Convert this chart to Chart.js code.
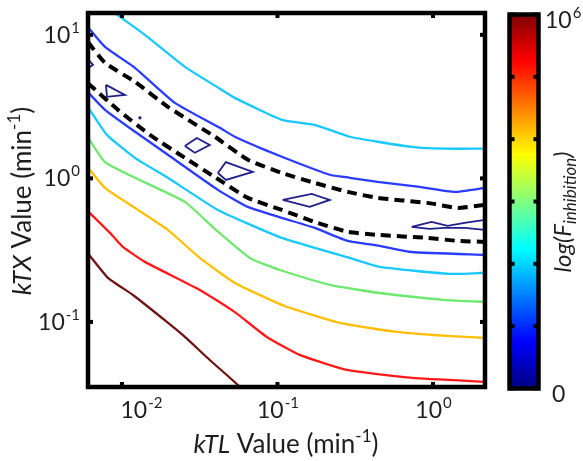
<!DOCTYPE html>
<html>
<head>
<meta charset="utf-8">
<script src="https://cdn.jsdelivr.net/npm/chart.js@4.4.1/dist/chart.umd.min.js"></script>
<style>
  html, body { margin: 0; padding: 0; background: #fff; }
</style>
</head>
<body>
<canvas id="c" width="583" height="461"></canvas>
<script>
// axis ranges and ticks (kTL on x, kTX on y, both log)
const xRange = [0.00605, 2.16];
const yRange = [0.0352, 14.2];
const xTicks = [0.01, 0.1, 1];
const xTickExp = ["-2", "-1", "0"];
const yTicks = [0.1, 1, 10];
const yTickExp = ["-1", "0", "1"];
const cbarTicks = [0, 1, 2, 3, 4, 5, 6];

// contour lines, [kTL, kTX]
const cyanUpper = [[0.00915,14.0],[0.01405,10.0],[0.0254,5.98],[0.0408,4.34],[0.0532,3.64],[0.1066,2.56],[0.1736,2.36],[0.2914,1.95],[0.4406,1.80],[0.729,1.66],[1.187,1.61],[2.16,1.61]];
const blueUpper = [[0.00605,11.3],[0.00778,8.25],[0.01212,5.89],[0.0219,3.36],[0.0426,2.25],[0.0532,1.95],[0.0829,1.58],[0.135,1.28],[0.2168,1.06],[0.2914,1.01],[0.4406,0.945],[0.8204,0.872],[1.376,0.805],[2.16,0.859]];
const dashUpper = [[0.00605,8.9],[0.00778,6.38],[0.01212,4.71],[0.01974,3.15],[0.0396,1.95],[0.0645,1.35],[0.1066,1.09],[0.1736,0.930],[0.2829,0.805],[0.4406,0.731],[0.9232,0.675],[1.439,0.623],[2.16,0.654]];
const dashLower = [[0.00605,4.6],[0.00943,3.00],[0.01513,2.01],[0.0254,1.39],[0.0402,1.01],[0.0645,0.731],[0.1066,0.603],[0.1736,0.497],[0.2829,0.424],[0.4406,0.404],[0.9232,0.385],[1.439,0.367],[2.16,0.361]];
const blueLower = [[0.00605,3.98],[0.00778,3.00],[0.01093,2.29],[0.01974,1.46],[0.0414,0.832],[0.0645,0.633],[0.1066,0.531],[0.1736,0.452],[0.2829,0.367],[0.4539,0.339],[0.729,0.307],[2.16,0.293]];
const cyanLower = [[0.00605,3.14],[0.00801,2.01],[0.01212,1.39],[0.01974,1.01],[0.0414,0.603],[0.1066,0.385],[0.2914,0.279],[0.4539,0.242],[1.278,0.216],[2.16,0.220]];
const greenLine = [[0.00605,1.93],[0.00778,1.30],[0.01212,1.01],[0.0254,0.686],[0.0402,0.438],[0.0664,0.279],[0.1035,0.230],[0.2168,0.181],[0.4539,0.159],[1.223,0.142],[2.16,0.138]];
const orangeLine = [[0.00605,1.19],[0.00778,0.859],[0.01212,0.623],[0.01974,0.438],[0.0317,0.279],[0.0532,0.187],[0.1114,0.129],[0.2513,0.0984],[0.5837,0.0852],[1.223,0.0799],[2.16,0.0774]];
const redLine = [[0.00605,0.59],[0.00838,0.417],[0.01015,0.333],[0.01405,0.262],[0.0317,0.167],[0.0532,0.117],[0.0854,0.0786],[0.139,0.0589],[0.2787,0.0463],[0.7396,0.0407],[2.16,0.0382]];
const darkRedLine = [[0.00605,0.30],[0.00813,0.203],[0.01177,0.154],[0.01945,0.100],[0.0254,0.0786],[0.0367,0.0543],[0.0556,0.0364],[0.0581,0.0336]];

// small closed contours around the minimum
const navyA = [[0.00605,6.75],[0.00652,6.18],[0.00605,5.85]];
const navyB = [[0.00789,4.48],[0.01045,3.82],[0.00801,3.70],[0.00789,4.48]];
const navyC = [[0.0254,1.68],[0.0303,1.91],[0.0367,1.71],[0.0294,1.51],[0.0254,1.68]];
const navyD = [[0.0414,1.09],[0.0466,1.30],[0.0694,1.11],[0.0466,0.976],[0.0414,1.09]];
const navyE = [[0.1081,0.708],[0.1661,0.780],[0.2168,0.708],[0.1612,0.633],[0.1081,0.708]];
const navyF = [[0.729,0.459],[0.9795,0.497],[1.241,0.467],[1.596,0.490],[2.16,0.514],[2.16,0.438],[1.596,0.452],[1.187,0.452],[0.951,0.445],[0.729,0.459]];
const navyDot = [[0.01305,2.64]];

const FONT = "Lato, 'Open Sans', sans-serif";
const TXT = "#1e1e1e";

function pts(arr) { return arr.map(p => ({ x: p[0], y: p[1] })); }

function contour(arr, color, width, dash, tension) {
  return {
    data: pts(arr),
    borderColor: color,
    backgroundColor: color,
    borderWidth: width,
    borderDash: dash || [],
    pointRadius: 0,
    fill: false,
    tension: tension === undefined ? 0.15 : tension,
    clip: 0
  };
}

// 10 with a raised exponent
function drawPow(ctx, exp, x, y, align) {
  ctx.font = "23px " + FONT;
  const wb = ctx.measureText("10").width;
  ctx.font = "15px " + FONT;
  const we = ctx.measureText(exp).width;
  let left = x;
  if (align === "center") left = x - (wb + we) / 2;
  if (align === "right") left = x - wb - we - 1;
  ctx.textAlign = "left";
  ctx.textBaseline = "alphabetic";
  ctx.font = "23px " + FONT;
  ctx.fillText("10", left, y);
  ctx.font = "15px " + FONT;
  ctx.fillText(exp, left + wb + 1, y - 10);
}

// text made of runs with mixed style / sub / sup
function drawRuns(ctx, runs, cx, base) {
  let total = 0;
  runs.forEach(r => {
    ctx.font = (r.i ? "italic " : "") + r.s + "px " + FONT;
    r.w = ctx.measureText(r.t).width;
    total += r.w;
  });
  let x = cx - total / 2;
  ctx.textAlign = "left";
  ctx.textBaseline = "alphabetic";
  runs.forEach(r => {
    ctx.font = (r.i ? "italic " : "") + r.s + "px " + FONT;
    ctx.fillText(r.t, x, base + (r.dy || 0));
    x += r.w;
  });
}

const decor = {
  id: "decor",
  beforeDraw(chart) {
    const ctx = chart.ctx;
    ctx.save();
    ctx.fillStyle = "#fff";
    ctx.fillRect(0, 0, chart.width, chart.height);
    ctx.restore();
  },
  afterDatasetsDraw(chart) {
    const ctx = chart.ctx;
    const a = chart.chartArea;
    const xs = chart.scales.x, ys = chart.scales.y;
    ctx.save();

    // frame
    ctx.strokeStyle = "#000";
    ctx.lineWidth = 4.5;
    ctx.strokeRect(a.left, a.top, a.right - a.left, a.bottom - a.top);

    // tick marks
    ctx.fillStyle = "#000";
    xTicks.forEach(v => {
      const px = xs.getPixelForValue(v);
      ctx.fillRect(px - 2, a.bottom - 5, 4, 4);
      ctx.fillRect(px - 2, a.top + 1, 4, 4);
    });
    yTicks.forEach(v => {
      const py = ys.getPixelForValue(v);
      ctx.fillRect(a.left + 1, py - 2, 4, 4);
      ctx.fillRect(a.right - 5, py - 2, 4, 4);
    });

    // tick labels
    ctx.fillStyle = TXT;
    xTicks.forEach((v, i) => {
      const px = xs.getPixelForValue(v) + (i === 0 ? 19 : 0);
      drawPow(ctx, xTickExp[i], px, 418, "center");
    });
    yTicks.forEach((v, i) => {
      const py = ys.getPixelForValue(v);
      drawPow(ctx, yTickExp[i], 80, py + 8, "right");
    });

    // axis titles
    drawRuns(ctx, [
      { t: "kTL", i: true, s: 26 },
      { t: " Value (min", s: 26 },
      { t: "-1", s: 17, dy: -11 },
      { t: ")", s: 26 }
    ], 286, 453);

    ctx.save();
    ctx.translate(22, 201);
    ctx.rotate(-Math.PI / 2);
    drawRuns(ctx, [
      { t: "kTX", i: true, s: 26 },
      { t: " Value (min", s: 26 },
      { t: "-1", s: 17, dy: -11 },
      { t: ")", s: 26 }
    ], 0, 9);
    ctx.restore();

    // colour bar
    const cb = { l: 509.5, r: 538.5, t: 14.5, b: 388.5 };
    const g = ctx.createLinearGradient(0, cb.b, 0, cb.t);
    g.addColorStop(0, "#00007f");
    g.addColorStop(0.125, "#0000ff");
    g.addColorStop(0.375, "#00ffff");
    g.addColorStop(0.625, "#ffff00");
    g.addColorStop(0.875, "#ff0000");
    g.addColorStop(1, "#7f0000");
    ctx.fillStyle = g;
    ctx.fillRect(cb.l, cb.t, cb.r - cb.l, cb.b - cb.t);
    ctx.strokeStyle = "#000";
    ctx.lineWidth = 4.5;
    ctx.strokeRect(cb.l, cb.t, cb.r - cb.l, cb.b - cb.t);
    ctx.fillStyle = "#000";
    cbarTicks.forEach(k => {
      const py = cb.b - (cb.b - cb.t) * k / 6;
      ctx.fillRect(cb.l + 1, py - 2, 4, 4);
      ctx.fillRect(cb.r - 5, py - 2, 4, 4);
    });

    ctx.fillStyle = TXT;
    drawPow(ctx, "6", 545, 28, "left");
    ctx.font = "23px " + FONT;
    ctx.textAlign = "left";
    ctx.fillText("0", 552, 402);

    ctx.save();
    ctx.translate(563, 212);
    ctx.rotate(-Math.PI / 2);
    drawRuns(ctx, [
      { t: "log(F", i: true, s: 24 },
      { t: "inhibition", i: true, s: 17, dy: 5 },
      { t: ")", i: true, s: 24 }
    ], 0, 8);
    ctx.restore();

    ctx.restore();
  }
};

const cyan = "#19c8ff";
const blue = "#2a3cff";
const navy = "#1e1e8c";
const dash = [10, 6];

new Chart(document.getElementById("c"), {
  type: "line",
  data: {
    datasets: [
      contour(darkRedLine, "#6e1414", 2.3),
      contour(redLine, "#ff1a1a", 2.3),
      contour(orangeLine, "#ffbf00", 2.3),
      contour(greenLine, "#6ee86e", 2.3),
      contour(cyanLower, cyan, 2.3),
      contour(blueLower, blue, 2.3),
      contour(dashLower, "#000", 4, dash),
      contour(dashUpper, "#000", 4, dash),
      contour(blueUpper, blue, 2.3),
      contour(cyanUpper, cyan, 2.3),
      contour(navyA, navy, 1.8, null, 0),
      contour(navyB, navy, 1.8, null, 0),
      contour(navyC, navy, 1.8, null, 0),
      contour(navyD, navy, 1.8, null, 0),
      contour(navyE, navy, 1.8, null, 0),
      contour(navyF, navy, 1.8, null, 0),
      Object.assign(contour(navyDot, navy, 1), { pointRadius: 1.2, showLine: false })
    ]
  },
  options: {
    responsive: false,
    animation: false,
    devicePixelRatio: 1,
    events: [],
    layout: { padding: { left: 88, right: 98, top: 13, bottom: 74 } },
    plugins: { legend: { display: false }, tooltip: { enabled: false } },
    scales: {
      x: { type: "logarithmic", min: xRange[0], max: xRange[1], display: false },
      y: { type: "logarithmic", min: yRange[0], max: yRange[1], display: false }
    }
  },
  plugins: [decor]
});
</script>
</body>
</html>
